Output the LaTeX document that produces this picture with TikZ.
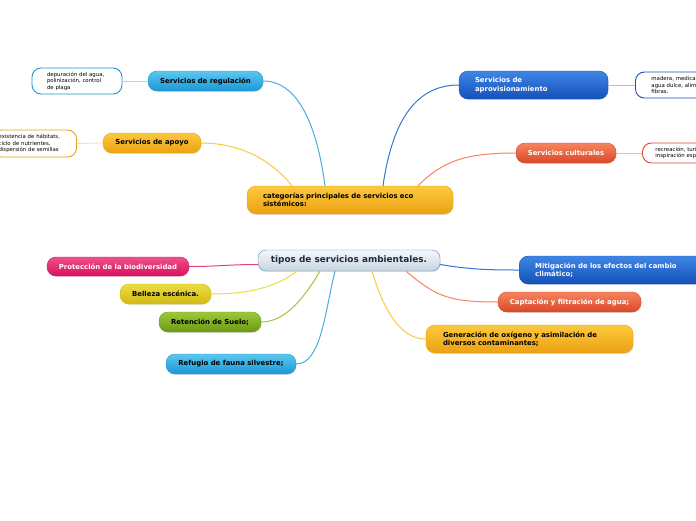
\documentclass[tikz,border=0pt]{standalone}
\usepackage{fontspec}
\setmainfont{DejaVu Sans}
\usetikzlibrary{shadows}

% colours of the branches
\definecolor{celesteA}{HTML}{5CC6F0}
\definecolor{celesteB}{HTML}{1A98D4}
\definecolor{azulA}{HTML}{3F86E6}
\definecolor{azulB}{HTML}{1450B8}
\definecolor{naranjaA}{HTML}{FCC93E}
\definecolor{naranjaB}{HTML}{ECA112}
\definecolor{rojoA}{HTML}{F5855E}
\definecolor{rojoB}{HTML}{D9482A}
\definecolor{rosaA}{HTML}{F0508A}
\definecolor{rosaB}{HTML}{D8105E}
\definecolor{amarilloA}{HTML}{ECDC42}
\definecolor{amarilloB}{HTML}{D2BA14}
\definecolor{verdeA}{HTML}{9CC83A}
\definecolor{verdeB}{HTML}{6A9A14}
\definecolor{grisA}{HTML}{F6F8FA}
\definecolor{grisB}{HTML}{C8D2DC}
\definecolor{marco}{HTML}{4A90D0}
\definecolor{tinta}{HTML}{1B2A48}

\tikzset{
  box/.style={rectangle, rounded corners=9pt, minimum height=20pt, inner ysep=0pt,
    font=\fontsize{6.9}{8.2}\selectfont\bfseries,
    drop shadow={opacity=0.2, shadow xshift=0.6pt, shadow yshift=-0.9pt}},
  celeste/.style={box, top color=celesteA, bottom color=celesteB, draw=celesteB},
  azul/.style={box, top color=azulA, bottom color=azulB, draw=azulB, text=white},
  naranja/.style={box, top color=naranjaA, bottom color=naranjaB, draw=naranjaB},
  rojo/.style={box, top color=rojoA, bottom color=rojoB, draw=rojoB, text=white},
  rosa/.style={box, top color=rosaA, bottom color=rosaB, draw=rosaB, text=white},
  amarillo/.style={box, top color=amarilloA, bottom color=amarilloB, draw=amarilloB},
  verde/.style={box, top color=verdeA, bottom color=verdeB, draw=verdeB},
  wide/.style={align=left, text width=#1, inner xsep=16pt, minimum height=28pt},
  note/.style={draw=#1, line width=0.9pt, fill=white, rounded corners=9pt,
    font=\fontsize{5.4}{6.4}\selectfont, align=left, inner ysep=0pt},
  link/.style={draw=#1, line width=1pt},
  thinlink/.style={draw=#1, line width=0.8pt}
}

\begin{document}
\begin{tikzpicture}[x=1pt,y=-1pt]
\path[use as bounding box, clip] (0,0) rectangle (696,520);
\fill[white] (0,0) rectangle (696,520);

% categorias
\node[naranja, wide=174pt, minimum width=206pt] (cat) at (350,200) {categorías principales de servicios eco\\sistémicos:};
\node[celeste, minimum width=115pt] (reg) at (205.5,81) {Servicios de regulación};
\node[naranja, minimum width=98pt] (apoyo) at (152,143) {Servicios de apoyo};
\node[azul, wide=117pt, minimum width=149pt] (prov) at (533.5,85) {Servicios de\\aprovisionamiento};
\node[rojo, minimum width=100pt] (cult) at (566,153) {Servicios culturales};

\node[note=celesteB, minimum width=90pt, minimum height=26pt, text width=60pt] (depu) at (77,81) {depuración del agua,\\ polinización, control\\de plaga};
\node[note=naranjaB, minimum width=84pt, minimum height=27pt, text width=72pt, anchor=east] (eco) at (77,143.5) {existencia de hábitats,\\ciclo de nutrientes,\\dispersión de semillas};
\node[note=azulB, minimum width=108pt, minimum height=26pt, text width=76pt, anchor=west] (provn) at (635,85) {madera, medicamentos,\\ agua dulce, alimentos,\\fibras.};
\node[note=rojoB, minimum width=106pt, minimum height=20pt, text width=80pt, anchor=west] (cultn) at (642,153) {recreación, turismo,\\inspiración espiritual};

\draw[link=celesteB!80] ([xshift=-25pt]cat.north) .. controls +(-8,-60) and +(35,0) .. (reg.east);
\draw[link=naranjaA] ([xshift=-58pt]cat.north) .. controls +(-20,-25) and +(40,0) .. (apoyo.east);
\draw[link=azulA!70!azulB] ([xshift=33pt]cat.north) .. controls +(10,-70) and +(-40,0) .. (prov.west);
\draw[link=rojoA] ([xshift=68pt]cat.north) .. controls +(25,-25) and +(-50,0) .. (cult.west);
\draw[thinlink=celesteA!60] (reg.west) -- (depu.east);
\draw[thinlink=naranjaA!60] (apoyo.west) -- (eco.east);
\draw[thinlink=azulA!50] (prov.east) -- (provn.west);
\draw[thinlink=rojoA!60] (cult.east) -- (cultn.west);

% tipos
\node[box, top color=grisA, bottom color=grisB, draw=marco, text=tinta, minimum width=182pt, minimum height=21pt, rounded corners=8pt, font=\fontsize{8.9}{10}\selectfont\bfseries] (tipos) at (349,260.5) {tipos de servicios ambientales.};
\node[rosa, minimum width=142pt, minimum height=19pt] (prot) at (118,266.5) {Protección de la biodiversidad};
\node[amarillo, minimum width=91pt] (bel) at (165.5,294) {Belleza escénica.};
\node[verde, minimum width=102pt] (ret) at (210,322) {Retención de Suelo;};
\node[celeste, minimum width=130pt] (ref) at (231,364) {Refugio de fauna silvestre;};
\node[azul, wide=170pt, anchor=west] (mit) at (519,270) {Mitigación de los efectos del cambio\\climático;};
\node[rojo, minimum width=143pt] (cap) at (569.5,302) {Captación y filtración de agua;};
\node[naranja, wide=173pt, minimum width=207pt] (gen) at (529.5,339) {Generación de oxígeno y asimilación de\\diversos contaminantes;};

\draw[link=rosaB!80] ([yshift=-4pt]tipos.west) .. controls +(-30,0) and +(30,0) .. (prot.east);
\draw[link=amarilloA] ([xshift=-52pt]tipos.south) .. controls +(-20,15) and +(40,0) .. (bel.east);
\draw[link=verdeA] ([xshift=-29pt]tipos.south) .. controls +(-15,25) and +(25,0) .. (ret.east);
\draw[link=celesteB!80] ([xshift=-14pt]tipos.south) .. controls +(-10,40) and +(25,0) .. (ref.east);
\draw[link=azulA!70!azulB] ([yshift=-4pt]tipos.east) .. controls +(30,5) and +(-30,0) .. (mit.west);
\draw[link=rojoA] ([xshift=57pt]tipos.south) .. controls +(30,25) and +(-50,0) .. (cap.west);
\draw[link=naranjaA] ([xshift=23pt]tipos.south) .. controls +(15,50) and +(-20,0) .. (gen.west);
\end{tikzpicture}
\end{document}
